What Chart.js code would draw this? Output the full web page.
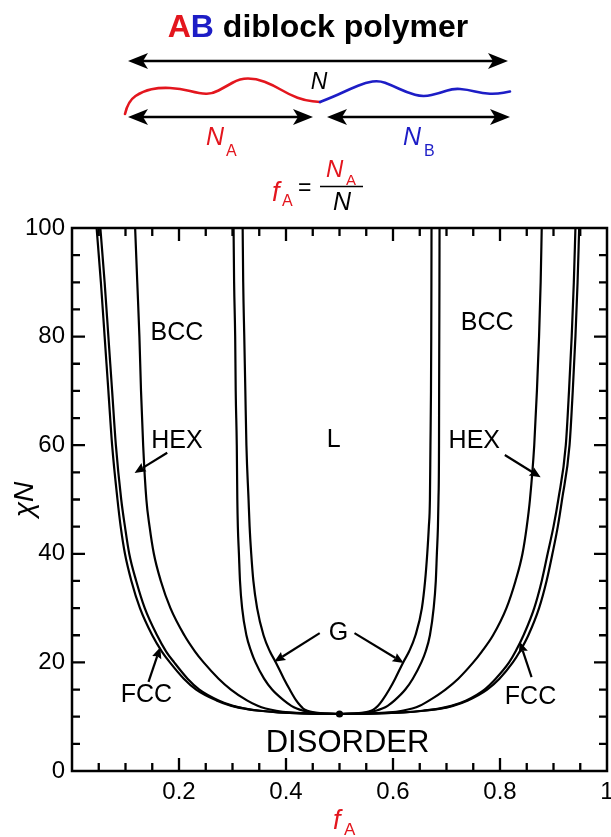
<!DOCTYPE html>
<html>
<head>
<meta charset="utf-8">
<script src="https://cdn.jsdelivr.net/npm/chart.js@4.4.1/dist/chart.umd.min.js"></script>
<style>
html,body{margin:0;padding:0;background:#fff;}
canvas{display:block;}
</style>
</head>
<body>
<canvas id="c" width="611" height="837"></canvas>
<script>
// ---- data (segregation strength chiN vs. f_A) ----
const chiN = [100, 90, 80, 70, 60, 50, 45, 40, 35, 30, 25, 22, 20, 17, 15, 13, 12, 11.5, 11.1, 10.8, 10.6, 10.5];

// left-hand (A-minority) boundaries
const fDisFccLeft = [0.046, 0.054, 0.061, 0.068, 0.075, 0.085, 0.091, 0.099, 0.111, 0.127, 0.150, 0.168, 0.183, 0.209, 0.232, 0.270, 0.298, 0.322, 0.350, 0.385, 0.430, 0.500];
const fFccBccLeft = [0.053, 0.061, 0.068, 0.075, 0.082, 0.092, 0.099, 0.107, 0.120, 0.136, 0.159, 0.176, 0.191, 0.216, 0.238, 0.274, 0.301, 0.324, 0.352, 0.387, 0.431, 0.500];
const fBccHexLeft = [0.118, 0.122, 0.126, 0.129, 0.133, 0.139, 0.145, 0.153, 0.166, 0.184, 0.210, 0.230, 0.246, 0.274, 0.297, 0.327, 0.347, 0.362, 0.382, 0.405, 0.440, 0.500];
const fHexGLeft   = [0.302, 0.303, 0.305, 0.306, 0.308, 0.309, 0.310, 0.312, 0.314, 0.318, 0.326, 0.335, 0.343, 0.359, 0.374, 0.396, 0.410, 0.420, 0.432, 0.447, 0.465, 0.500];
const fGLamLeft   = [0.319, 0.320, 0.322, 0.324, 0.326, 0.330, 0.332, 0.335, 0.339, 0.346, 0.358, 0.370, 0.381, 0.396, 0.407, 0.419, 0.427, 0.432, 0.440, 0.452, 0.468, 0.500];

// right-hand (A-majority) boundaries
const fLamGRight   = [0.672, 0.6718, 0.6715, 0.671, 0.670, 0.669, 0.667, 0.664, 0.660, 0.654, 0.642, 0.630, 0.619, 0.604, 0.593, 0.580, 0.572, 0.566, 0.559, 0.548, 0.532, 0.500];
const fGHexRight   = [0.687, 0.6868, 0.6865, 0.6862, 0.686, 0.685, 0.684, 0.682, 0.680, 0.676, 0.669, 0.661, 0.653, 0.637, 0.623, 0.603, 0.590, 0.580, 0.568, 0.553, 0.535, 0.500];
const fHexBccRight = [0.878, 0.876, 0.873, 0.869, 0.864, 0.856, 0.850, 0.842, 0.829, 0.812, 0.787, 0.766, 0.750, 0.722, 0.698, 0.668, 0.650, 0.636, 0.617, 0.594, 0.560, 0.500];
const fBccFccRight = [0.941, 0.938, 0.934, 0.929, 0.923, 0.909, 0.900, 0.889, 0.878, 0.864, 0.844, 0.829, 0.817, 0.792, 0.771, 0.737, 0.709, 0.686, 0.655, 0.618, 0.571, 0.500];
const fFccDisRight = [0.948, 0.945, 0.941, 0.936, 0.930, 0.916, 0.908, 0.898, 0.887, 0.873, 0.853, 0.837, 0.824, 0.799, 0.776, 0.740, 0.712, 0.689, 0.657, 0.620, 0.572, 0.500];

// critical point
const criticalF = [0.5];
const criticalChiN = [10.5];

// axes
const xTickLabels = ['', '0.2', '0.4', '0.6', '0.8', '1'];
const yTickLabels = ['0', '20', '40', '60', '80', '100'];

// phase labels (text, f, chiN)
const phaseLabelText = ['BCC', 'BCC', 'HEX', 'HEX', 'L', 'G', 'FCC', 'FCC', 'DISORDER'];
const phaseLabelF    = [0.196, 0.776, 0.196, 0.752, 0.489, 0.498, 0.139, 0.857, 0.515];
const phaseLabelChiN = [80.7, 82.5, 60.8, 60.8, 61.0, 25.4, 14.0, 13.6, 5.0];

// pointer arrows: from (f, chiN) to tip (f, chiN)
const arrowFromF    = [0.178, 0.809, 0.463, 0.528, 0.143, 0.859];
const arrowFromChiN = [58.6, 58.2, 25.4, 25.4, 16.4, 17.3];
const arrowToF      = [0.117, 0.876, 0.378, 0.620, 0.165, 0.837];
const arrowToChiN   = [54.9, 54.1, 20.1, 19.9, 22.8, 23.8];

// ---- styles ----
const FONT = '"Liberation Sans", Arial, Helvetica, sans-serif';
const RED = '#e3161e';
const BLUE = '#1d1dc6';

function curve(fs) {
  return fs.map((f, i) => ({ x: f, y: chiN[i] }));
}
const lineStyle = { showLine: true, pointRadius: 0, borderColor: '#000', borderWidth: 2.2, tension: 0.4, cubicInterpolationMode: 'monotone', fill: false };

const boundarySets = [fDisFccLeft, fFccBccLeft, fBccHexLeft, fHexGLeft, fGLamLeft,
                      fLamGRight, fGHexRight, fHexBccRight, fBccFccRight, fFccDisRight];
const datasets = boundarySets.map((fs, i) => Object.assign({ label: 'boundary ' + (i + 1), data: curve(fs) }, lineStyle));
datasets.push({
  label: 'critical point',
  data: criticalF.map((f, i) => ({ x: f, y: criticalChiN[i] })),
  showLine: false, pointRadius: 3.6, pointBackgroundColor: '#000', pointBorderWidth: 0
});

function arrowHead(ctx, x1, y1, x2, y2, len, half, notch) {
  const a = Math.atan2(y2 - y1, x2 - x1);
  const c = Math.cos(a), s = Math.sin(a);
  ctx.beginPath();
  ctx.moveTo(x2, y2);
  ctx.lineTo(x2 - len * c + half * s, y2 - len * s - half * c);
  ctx.lineTo(x2 - (len - notch) * c, y2 - (len - notch) * s);
  ctx.lineTo(x2 - len * c - half * s, y2 - len * s + half * c);
  ctx.closePath();
  ctx.fill();
}
function arrow(ctx, x1, y1, x2, y2, lw, len, half, notch) {
  const a = Math.atan2(y2 - y1, x2 - x1);
  ctx.lineWidth = lw;
  ctx.beginPath();
  ctx.moveTo(x1, y1);
  ctx.lineTo(x2 - (len - notch) * Math.cos(a), y2 - (len - notch) * Math.sin(a));
  ctx.stroke();
  arrowHead(ctx, x1, y1, x2, y2, len, half, notch);
}
function smoothPath(ctx, pts) {
  ctx.beginPath();
  ctx.moveTo(pts[0][0], pts[0][1]);
  for (let i = 1; i < pts.length - 1; i++) {
    const mx = (pts[i][0] + pts[i + 1][0]) / 2, my = (pts[i][1] + pts[i + 1][1]) / 2;
    ctx.quadraticCurveTo(pts[i][0], pts[i][1], mx, my);
  }
  const l = pts[pts.length - 1];
  ctx.lineTo(l[0], l[1]);
  ctx.stroke();
}

const decor = {
  id: 'decor',
  afterDatasetsDraw(chart) {
    const { ctx, chartArea: a, scales: { x, y } } = chart;
    ctx.save();
    ctx.strokeStyle = '#000';
    ctx.fillStyle = '#000';
    // frame
    ctx.lineWidth = 2.5;
    ctx.strokeRect(a.left, a.top, a.right - a.left, a.bottom - a.top);
    // inward ticks on all four sides
    ctx.lineWidth = 2.3;
    ctx.beginPath();
    for (let i = 1; i < 20; i++) {
      const px = x.getPixelForValue(i * 0.05);
      const len = (i % 4 === 0) ? 13 : 8;
      ctx.moveTo(px, a.bottom); ctx.lineTo(px, a.bottom - len);
      ctx.moveTo(px, a.top); ctx.lineTo(px, a.top + len);
    }
    for (let i = 1; i < 20; i++) {
      const py = y.getPixelForValue(i * 5);
      const len = (i % 4 === 0) ? 13 : 8;
      ctx.moveTo(a.left, py); ctx.lineTo(a.left + len, py);
      ctx.moveTo(a.right, py); ctx.lineTo(a.right - len, py);
    }
    ctx.stroke();

    // phase labels
    ctx.textAlign = 'center';
    ctx.textBaseline = 'middle';
    phaseLabelText.forEach((t, i) => {
      ctx.font = (t === 'DISORDER' ? '31px ' : '25px ') + FONT;
      ctx.fillText(t, x.getPixelForValue(phaseLabelF[i]), y.getPixelForValue(phaseLabelChiN[i]));
    });
    // pointer arrows
    ctx.lineCap = 'butt';
    arrowFromF.forEach((f, i) => {
      arrow(ctx, x.getPixelForValue(f), y.getPixelForValue(arrowFromChiN[i]),
            x.getPixelForValue(arrowToF[i]), y.getPixelForValue(arrowToChiN[i]), 2.2, 11, 4.8, 1.5);
    });

    // x-axis title f_A
    ctx.textAlign = 'left';
    ctx.textBaseline = 'alphabetic';
    ctx.fillStyle = RED;
    ctx.font = 'italic 27px ' + FONT;
    ctx.fillText('f', 333, 829);
    ctx.font = '17px ' + FONT;
    ctx.fillText('A', 344, 835);
    ctx.restore();
  },
  afterDraw(chart) {
    const ctx = chart.ctx;
    ctx.save();
    ctx.textBaseline = 'alphabetic';
    ctx.textAlign = 'left';
    // title
    ctx.font = 'bold 32px ' + FONT;
    const parts = [['A', RED], ['B', BLUE], [' diblock polymer', '#000']];
    const total = parts.reduce((s, p) => s + ctx.measureText(p[0]).width, 0);
    let tx = 318 - total / 2;
    parts.forEach(([t, c]) => { ctx.fillStyle = c; ctx.fillText(t, tx, 37); tx += ctx.measureText(t).width; });

    // double arrows
    ctx.strokeStyle = '#000'; ctx.fillStyle = '#000';
    const dbl = (x1, x2, yy) => {
      ctx.lineWidth = 2.6;
      ctx.beginPath(); ctx.moveTo(x1 + 10, yy); ctx.lineTo(x2 - 10, yy); ctx.stroke();
      arrowHead(ctx, x2, yy, x1, yy, 20, 8, 5);
      arrowHead(ctx, x1, yy, x2, yy, 20, 8, 5);
    };
    dbl(128, 508, 61);
    dbl(128, 313, 117);
    dbl(327, 510, 117);

    // N label
    ctx.font = 'italic 23px ' + FONT;
    ctx.textAlign = 'center';
    ctx.fillText('N', 319, 89);

    // chain: red A block then blue B block
    ctx.lineWidth = 2.6; ctx.lineCap = 'round';
    ctx.strokeStyle = RED;
    smoothPath(ctx, [[125, 114], [128, 101], [143, 91], [160, 87.5], [180, 88.5], [200, 93.5], [212, 94], [225, 87], [240, 78.5], [256, 78.5], [273, 85], [290, 95], [305, 100.5], [320, 102]]);
    ctx.strokeStyle = BLUE;
    smoothPath(ctx, [[320, 102], [334, 96.5], [350, 89], [366, 82.5], [379, 80.5], [391, 85], [407, 92.5], [423, 97], [440, 93], [453, 88.5], [467, 89.5], [483, 93.5], [497, 94], [510, 91.5]]);

    // N_A and N_B
    ctx.textAlign = 'left';
    ctx.fillStyle = RED;
    ctx.font = 'italic 25px ' + FONT; ctx.fillText('N', 206, 145);
    ctx.font = '16px ' + FONT; ctx.fillText('A', 226, 156);
    ctx.fillStyle = BLUE;
    ctx.font = 'italic 25px ' + FONT; ctx.fillText('N', 403, 145);
    ctx.font = '16px ' + FONT; ctx.fillText('B', 424, 156);

    // f_A = N_A / N
    ctx.fillStyle = RED;
    ctx.font = 'italic 27px ' + FONT; ctx.fillText('f', 272, 201);
    ctx.font = '16px ' + FONT; ctx.fillText('A', 282, 206);
    ctx.fillStyle = '#000';
    ctx.font = '23px ' + FONT; ctx.fillText('=', 298, 195);
    ctx.strokeStyle = '#000';
    ctx.lineWidth = 1.6; ctx.lineCap = 'butt';
    ctx.beginPath(); ctx.moveTo(320, 186.5); ctx.lineTo(363, 186.5); ctx.stroke();
    ctx.fillStyle = RED;
    ctx.font = 'italic 24px ' + FONT; ctx.fillText('N', 326, 177);
    ctx.font = '15px ' + FONT; ctx.fillText('A', 346, 185);
    ctx.fillStyle = '#000';
    ctx.font = 'italic 25px ' + FONT; ctx.fillText('N', 333, 210);
    ctx.restore();
  }
};

new Chart(document.getElementById('c'), {
  type: 'scatter',
  data: { datasets },
  options: {
    responsive: false,
    animation: false,
    devicePixelRatio: 1,
    layout: { padding: { top: 228, right: 1, bottom: 0, left: 0 } },
    plugins: { legend: { display: false }, tooltip: { enabled: false }, title: { display: false } },
    scales: {
      x: {
        type: 'linear', min: 0, max: 1,
        grid: { display: false, drawTicks: false },
        border: { display: false },
        ticks: {
          stepSize: 0.2, autoSkip: false, maxRotation: 0, padding: 7, color: '#000',
          font: { family: FONT, size: 24 },
          callback: (v, i) => xTickLabels[i] !== undefined ? xTickLabels[i] : ''
        },
        afterFit: s => { s.height = 66; s.paddingLeft = 0; s.paddingRight = 0; }
      },
      y: {
        type: 'linear', min: 0, max: 100,
        grid: { display: false, drawTicks: false },
        border: { display: false },
        ticks: {
          stepSize: 20, padding: 7, color: '#000',
          font: { family: FONT, size: 24 },
          callback: (v, i) => yTickLabels[i] !== undefined ? yTickLabels[i] : ''
        },
        title: { display: true, text: 'χN', color: '#000', font: { family: FONT, size: 28, style: 'italic' }, padding: { top: 8, bottom: 0 } },
        afterFit: s => { s.width = 72; }
      }
    }
  },
  plugins: [decor]
});
</script>
</body>
</html>
